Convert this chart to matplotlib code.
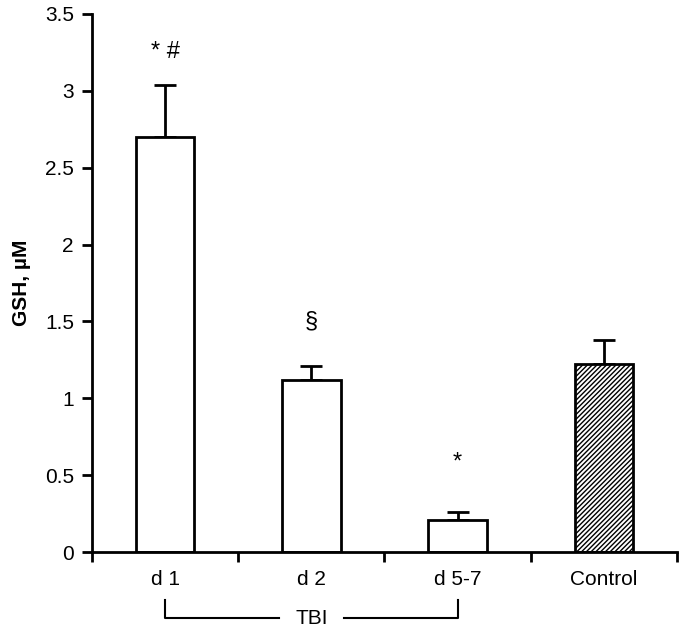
import matplotlib.pyplot as plt
import numpy as np

# Данные
groups = ['d 1', 'd 2', 'd 5-7', 'Control']
gsh_mean = [2.70, 1.12, 0.21, 1.22]
gsh_err = [0.34, 0.09, 0.05, 0.16]
marks = ['* #', '§', '*', '']
mark_y = [3.25, 1.5, 0.58, None]

plt.rcParams['font.family'] = ['Liberation Sans', 'DejaVu Sans']
plt.rcParams['hatch.linewidth'] = 1.0

fig = plt.figure(figsize=(6.85, 6.3), dpi=100)
ax = fig.add_axes([0.1343, 0.1238, 0.8540, 0.8540])

x = np.arange(len(groups))
hatches = [None, None, None, '///////']
for xi, val, err, h in zip(x, gsh_mean, gsh_err, hatches):
    ax.bar(xi, val, width=0.4, color='white', edgecolor='black',
           linewidth=2, hatch=h, zorder=2)
    ax.errorbar(xi, val, yerr=[[0], [err]], fmt='none', ecolor='black',
                elinewidth=2, capsize=8, capthick=2, zorder=1)

for xi, m, my in zip(x, marks, mark_y):
    if m:
        ax.text(xi, my, m, ha='center', va='center', fontsize=17)

ax.set_xlim(-0.5, 3.5)
ax.set_ylim(0, 3.5)
ax.set_yticks(np.arange(0, 3.51, 0.5))
ax.set_yticklabels(['0', '0.5', '1', '1.5', '2', '2.5', '3', '3.5'])
ax.set_xticks(x)
ax.set_xticklabels(groups)
ax.set_xticks(np.arange(-0.5, 3.6, 1), minor=True)
ax.tick_params(axis='x', which='major', length=0, pad=13, labelsize=15)
ax.tick_params(axis='x', which='minor', length=7, width=2, direction='out')
ax.tick_params(axis='y', length=7, width=2, direction='out', labelsize=15, pad=6)

ax.set_ylabel('GSH, µM', fontsize=15, fontweight='bold', labelpad=10)

ax.spines['top'].set_visible(False)
ax.spines['right'].set_visible(False)
ax.spines['left'].set_linewidth(2)
ax.spines['bottom'].set_linewidth(2)

# Скобка TBI под подписями
yb_top, yb_bot = -0.31, -0.43
ax.plot([0, 0, 0.78], [yb_top, yb_bot, yb_bot], color='black', lw=1.5, clip_on=False)
ax.plot([1.22, 2, 2], [yb_bot, yb_bot, yb_top], color='black', lw=1.5, clip_on=False)
ax.text(1, yb_bot, 'TBI', ha='center', va='center', fontsize=15)

fig.savefig('out.png', dpi=100)
